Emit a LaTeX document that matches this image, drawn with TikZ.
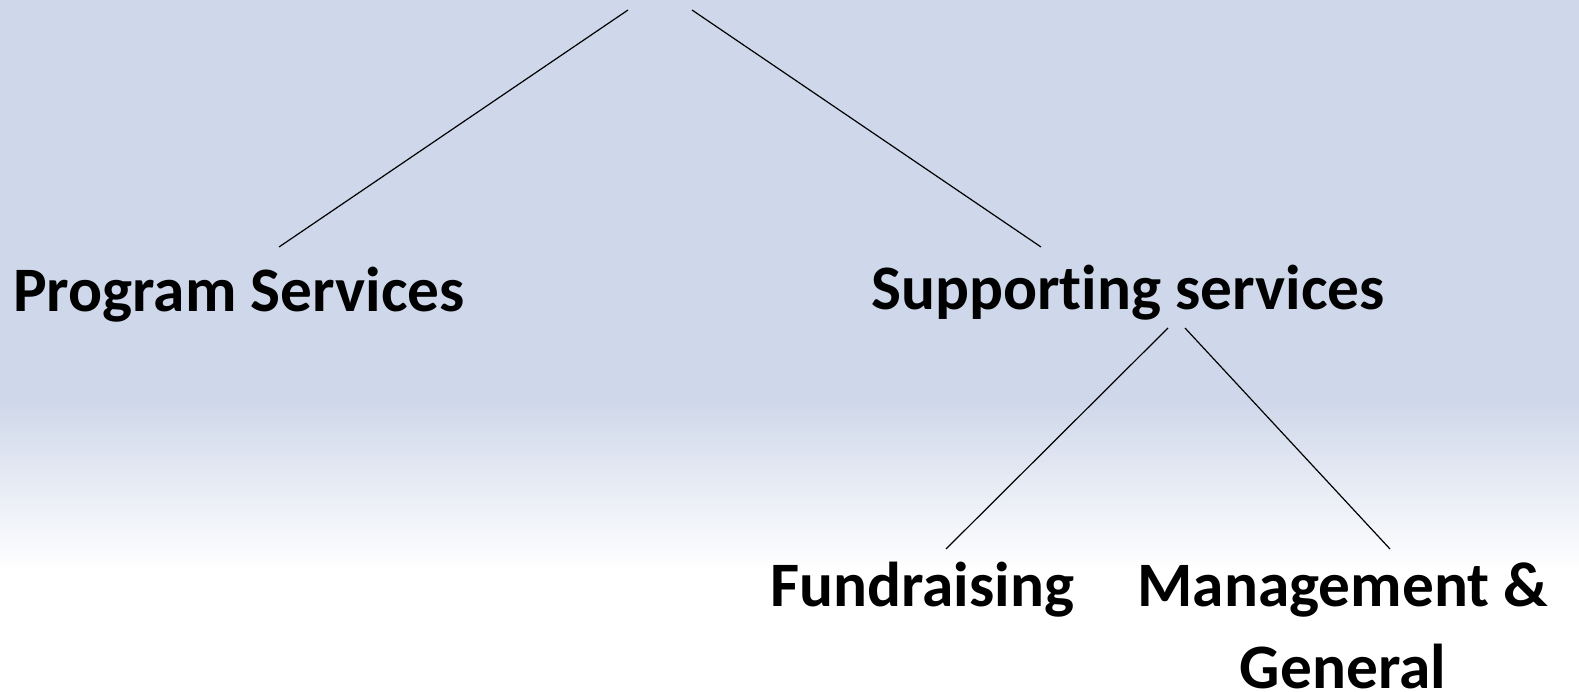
\documentclass[tikz,border=0pt]{standalone}
\usepackage{fontspec}
\setmainfont[Ligatures={NoCommon}]{Carlito}
\definecolor{bgblue}{RGB}{207,216,234}

\begin{document}
\begin{tikzpicture}[x=0.75pt,y=0.75pt,yscale=-1,xscale=1,
    label/.style={inner sep=0pt,font=\fontsize{47.5}{61}\selectfont\bfseries},
    branch/.style={draw=black,line width=0.9pt}]
    \useasboundingbox (0,0) rectangle (1579,692);
    
    %Background: flat blue, fading to white near the bottom
    \fill [bgblue] (0,0) rectangle (1579,402);
    \shade [top color=bgblue,bottom color=white] (0,401) rectangle (1579,570);
    \fill [white] (0,569) rectangle (1579,692);
    
    % Text Node
    \node (prog) at (13,311) [anchor=base west,label] {Program Services};
    % Text Node
    \node (supp) at (871,309) [anchor=base west,label] {Supporting services};
    % Text Node
    \node (fund) at (770,606) [anchor=base west,label] {Fundraising};
    % Text Node
    \node (mgmt) at (1343,688) [anchor=base,align=center,label] {Management \&\\General};
    
    %Branch ends
    \coordinate (rootL) at (628,10);
    \coordinate (rootR) at (692,10);
    \coordinate (progT) at (279,247);
    \coordinate (suppT) at (1041,247);
    \coordinate (suppBL) at (1168,328);
    \coordinate (suppBR) at (1185,328);
    \coordinate (fundT) at (946,549);
    \coordinate (mgmtT) at (1390,549);
    
    %Straight Lines
    \draw [branch] (rootL) -- (progT);
    \draw [branch] (rootR) -- (suppT);
    \draw [branch] (suppBL) -- (fundT);
    \draw [branch] (suppBR) -- (mgmtT);
    
\end{tikzpicture}
\end{document}
